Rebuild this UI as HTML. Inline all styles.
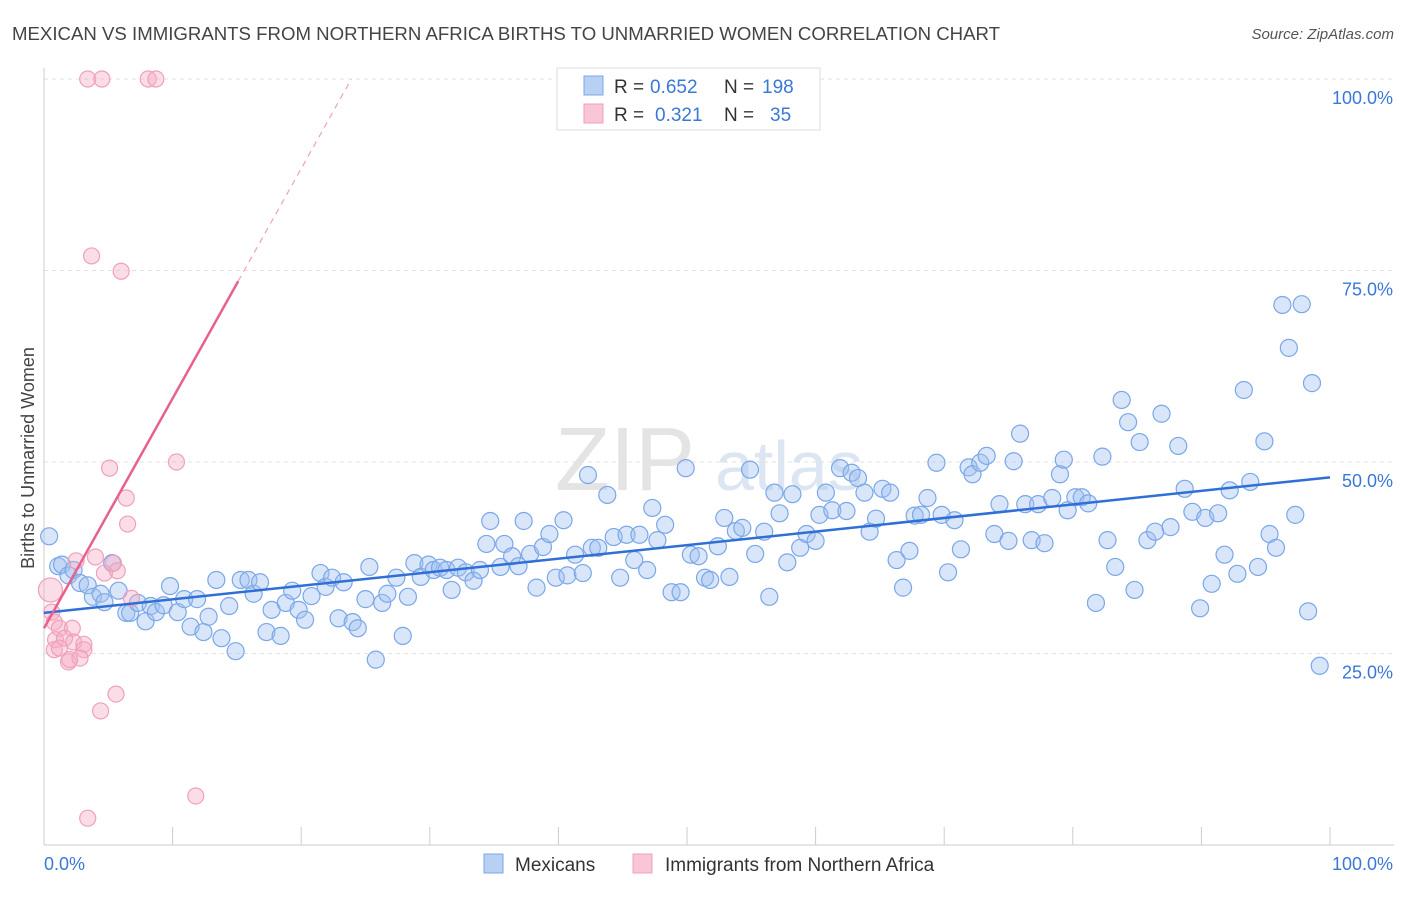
<!DOCTYPE html>
<html><head><meta charset="utf-8">
<style>
body{margin:0;background:#fff;font-family:"Liberation Sans",sans-serif;}
svg text{font-family:"Liberation Sans",sans-serif;}
</style></head>
<body>
<svg id="chart" width="1406" height="892" viewBox="0 0 1406 892" xmlns="http://www.w3.org/2000/svg">
<text x="12" y="40" font-size="18" fill="#444" textLength="988" lengthAdjust="spacingAndGlyphs">MEXICAN VS IMMIGRANTS FROM NORTHERN AFRICA BIRTHS TO UNMARRIED WOMEN CORRELATION CHART</text>
<text x="1394" y="39" font-size="15" fill="#555" text-anchor="end" font-style="italic">Source: ZipAtlas.com</text>
<text x="555" y="490" font-size="90" fill="#e4e4e4" font-family="Liberation Serif">ZIP</text>
<text x="715" y="490" font-size="70" fill="#dce6f3">atlas</text>
<g id="grid"></g>
<g id="axes"></g>
<g id="marks"></g>
<text transform="translate(34,458) rotate(-90)" font-size="18" fill="#444" text-anchor="middle">Births to Unmarried Women</text>
<g>
<rect x="557" y="68" width="263" height="62" fill="#fff" stroke="#ddd"/>
<rect x="584" y="76" width="19" height="19" fill="#b8d0f3" stroke="#7aa7e8"/>
<rect x="584" y="104" width="19" height="19" fill="#f9c6d6" stroke="#f0a0bb"/>
<text x="614" y="93" font-size="19" fill="#333">R =</text>
<text x="650" y="93" font-size="19" fill="#3a78d8">0.652</text>
<text x="724" y="93" font-size="19" fill="#333">N =</text>
<text x="762" y="93" font-size="19" fill="#3a78d8">198</text>
<text x="614" y="121" font-size="19" fill="#333">R =</text>
<text x="655" y="121" font-size="19" fill="#3a78d8">0.321</text>
<text x="724" y="121" font-size="19" fill="#333">N =</text>
<text x="770" y="121" font-size="19" fill="#3a78d8">35</text>
</g>
<g>
<rect x="484" y="854" width="19" height="19" fill="#b8d0f3" stroke="#7aa7e8"/>
<text x="515" y="871" font-size="19" fill="#333">Mexicans</text>
<rect x="633" y="854" width="19" height="19" fill="#f9c6d6" stroke="#f0a0bb"/>
<text x="665" y="871" font-size="19" fill="#333">Immigrants from Northern Africa</text>
</g>
</svg>
<script>
const xTicks=[0,10,20,30,40,50,60,70,80,90,100];
const yTicks=[25,50,75,100];
const yTickLabels=["25.0%","50.0%","75.0%","100.0%"];
const blueX=[0.4,1.1,1.4,1.9,2.3,2.8,3.4,3.8,4.4,4.7,5.3,5.8,6.4,6.7,7.3,7.9,8.3,8.7,9.3,9.8,10.4,10.9,11.4,11.9,12.4,12.8,13.4,13.8,14.4,14.9,15.3,15.9,16.3,16.8,17.3,17.7,18.4,18.8,19.3,19.8,20.3,20.8,21.5,21.9,22.4,22.9,23.3,24.0,24.4,25.0,25.3,25.8,26.3,26.7,27.4,27.9,28.3,28.8,29.3,29.9,30.3,30.8,31.3,31.7,32.2,32.8,33.4,33.9,34.4,34.7,35.5,35.8,36.4,36.9,37.3,37.8,38.3,38.8,39.3,39.8,40.4,40.7,41.3,41.9,42.3,42.6,43.1,43.8,44.3,44.8,45.3,45.9,46.3,46.9,47.3,47.7,48.3,48.8,49.5,49.9,50.3,50.9,51.4,51.8,52.4,52.9,53.3,53.8,54.3,54.9,55.3,56.0,56.4,56.8,57.2,57.8,58.2,58.8,59.3,60.0,60.3,60.8,61.3,61.9,62.4,62.8,63.3,63.8,64.2,64.7,65.2,65.8,66.3,66.8,67.3,67.7,68.2,68.7,69.4,69.8,70.3,70.8,71.3,71.9,72.2,72.8,73.3,73.9,74.3,75.0,75.4,75.9,76.3,76.8,77.3,77.8,78.4,79.0,79.3,79.6,80.2,80.7,81.2,81.8,82.3,82.7,83.3,83.8,84.3,84.8,85.2,85.8,86.4,86.9,87.6,88.2,88.7,89.3,89.9,90.3,90.8,91.3,91.8,92.2,92.8,93.3,93.8,94.4,94.9,95.3,95.8,96.3,96.8,97.3,97.8,98.3,98.6,99.2];
const blueY=[40.3,36.4,36.6,35.2,35.9,34.2,33.9,32.4,32.8,31.7,36.8,33.2,30.3,30.3,31.6,29.2,31.2,30.4,31.3,33.8,30.4,32.1,28.5,32.1,27.8,29.8,34.6,27.0,31.2,25.3,34.6,34.6,32.8,34.3,27.8,30.7,27.3,31.6,33.2,30.7,29.4,32.5,35.5,33.7,34.9,29.6,34.3,29.1,28.3,32.1,36.3,24.2,31.6,32.8,34.9,27.3,32.4,36.8,35.0,36.6,35.9,36.2,35.9,33.3,36.2,35.6,34.5,35.9,39.3,42.3,36.3,39.3,37.7,36.4,42.3,38.0,33.6,38.9,40.6,34.9,42.4,35.2,37.9,35.5,48.3,38.8,38.8,45.7,40.2,34.9,40.5,37.2,40.5,35.9,44.0,39.8,41.8,33.0,33.0,49.2,37.9,37.7,34.9,34.6,39.0,42.7,35.0,41.0,41.4,49.0,38.0,40.9,32.4,46.0,43.3,36.9,45.8,38.8,40.6,39.7,43.1,46.0,43.7,49.2,43.6,48.6,47.9,46.0,40.9,42.6,46.5,46.0,37.2,33.6,38.4,43.0,43.1,45.3,49.9,43.1,35.6,42.4,38.6,49.3,48.4,49.9,50.8,40.6,44.5,39.7,50.1,53.7,44.5,39.8,44.5,39.4,45.3,48.4,50.3,43.7,45.4,45.4,44.6,31.6,50.7,39.8,36.3,58.1,55.2,33.3,52.6,39.8,40.9,56.3,41.5,52.1,46.5,43.5,30.9,42.7,34.1,43.3,37.9,46.3,35.4,59.4,47.4,36.3,52.7,40.6,38.8,70.5,64.9,43.1,70.6,30.5,60.3,23.4];
const pinkX=[3.4,4.5,8.1,8.7,3.7,6.0,5.1,10.3,6.4,6.5,5.4,4.0,2.5,4.7,5.7,6.8,0.5,0.6,0.8,1.2,2.2,0.9,1.6,2.3,3.1,0.8,1.2,3.1,1.9,2.0,2.8,5.6,4.4,11.8,3.4];
const pinkY=[100,100,100,100,76.9,74.9,49.2,50.0,45.3,41.9,36.8,37.6,37.1,35.5,35.8,32.2,33.3,30.4,29.1,28.3,28.3,26.8,27.0,26.5,26.2,25.5,25.7,25.5,23.9,24.2,24.4,19.7,17.5,6.4,3.5];
const blueTrend=[30.3,48.0];
const pinkTrend=[28.3,3.0];

const NS="http://www.w3.org/2000/svg";
const X0=44,X1=1330,Y0=845,YH=653.5;
function sx(v){return X0+(X1-X0)*v/100;}
function sy(v){return Y0-(Y0-YH)*v/25;}
function mk(tag,attrs,parent){const e=document.createElementNS(NS,tag);for(const k in attrs)e.setAttribute(k,attrs[k]);parent.appendChild(e);return e;}
const grid=document.getElementById('grid'),axes=document.getElementById('axes'),marks=document.getElementById('marks');
yTicks.forEach((t,i)=>{
 const l=mk('line',{x1:44,x2:1394,y1:sy(t),y2:sy(t),stroke:'#e2e2e2','stroke-dasharray':'4,4'},grid);
 
 
 const tx=mk('text',{x:1393,y:sy(t)+25,'font-size':18,fill:'#3a78d8','text-anchor':'end'},axes);
 tx.textContent=yTickLabels[i];
 
 
});
const ax=mk('line',{x1:44,x2:1394,y1:845,y2:845,stroke:'#ccc'},axes);


const ay=mk('line',{x1:44,x2:44,y1:68,y2:845,stroke:'#ccc'},axes);


xTicks.forEach(t=>{
 const l=mk('line',{x1:sx(t),x2:sx(t),y1:827,y2:845,stroke:'#ccc'},axes);
 
 
});
const xl0=mk('text',{x:44,y:870,'font-size':18,fill:'#3a78d8'},axes);xl0.textContent='0.0%';


const xl1=mk('text',{x:1393,y:870,'font-size':18,fill:'#3a78d8','text-anchor':'end'},axes);xl1.textContent='100.0%';



blueX.forEach((v,i)=>{
 const c=mk('circle',{cx:sx(v),cy:sy(blueY[i]),r:8.5,fill:'rgba(160,192,240,0.4)',stroke:'#7aa7e8','stroke-width':1.2},marks);
 
 
});
pinkX.forEach((v,i)=>{
 const c=mk('circle',{cx:sx(v),cy:sy(pinkY[i]),r:i==16?12:8,fill:'rgba(245,170,196,0.4)',stroke:'#f0a0bb','stroke-width':1.2},marks);
 
 
});
const bt=mk('line',{x1:sx(0),y1:sy(blueTrend[0]),x2:sx(100),y2:sy(blueTrend[1]),stroke:'#2f6fd6','stroke-width':2.5},marks);


const pEnd=15.1,pDash=23.9;
const pt=mk('line',{x1:sx(0),y1:sy(pinkTrend[0]),x2:sx(pEnd),y2:sy(pinkTrend[0]+pinkTrend[1]*pEnd),stroke:'#e8608e','stroke-width':2.5},marks);


const pd=mk('line',{x1:sx(pEnd),y1:sy(pinkTrend[0]+pinkTrend[1]*pEnd),x2:sx(pDash),y2:sy(pinkTrend[0]+pinkTrend[1]*pDash),stroke:'#f0a0bb','stroke-width':1.2,'stroke-dasharray':'6,5'},marks);


</script>
</body></html>
